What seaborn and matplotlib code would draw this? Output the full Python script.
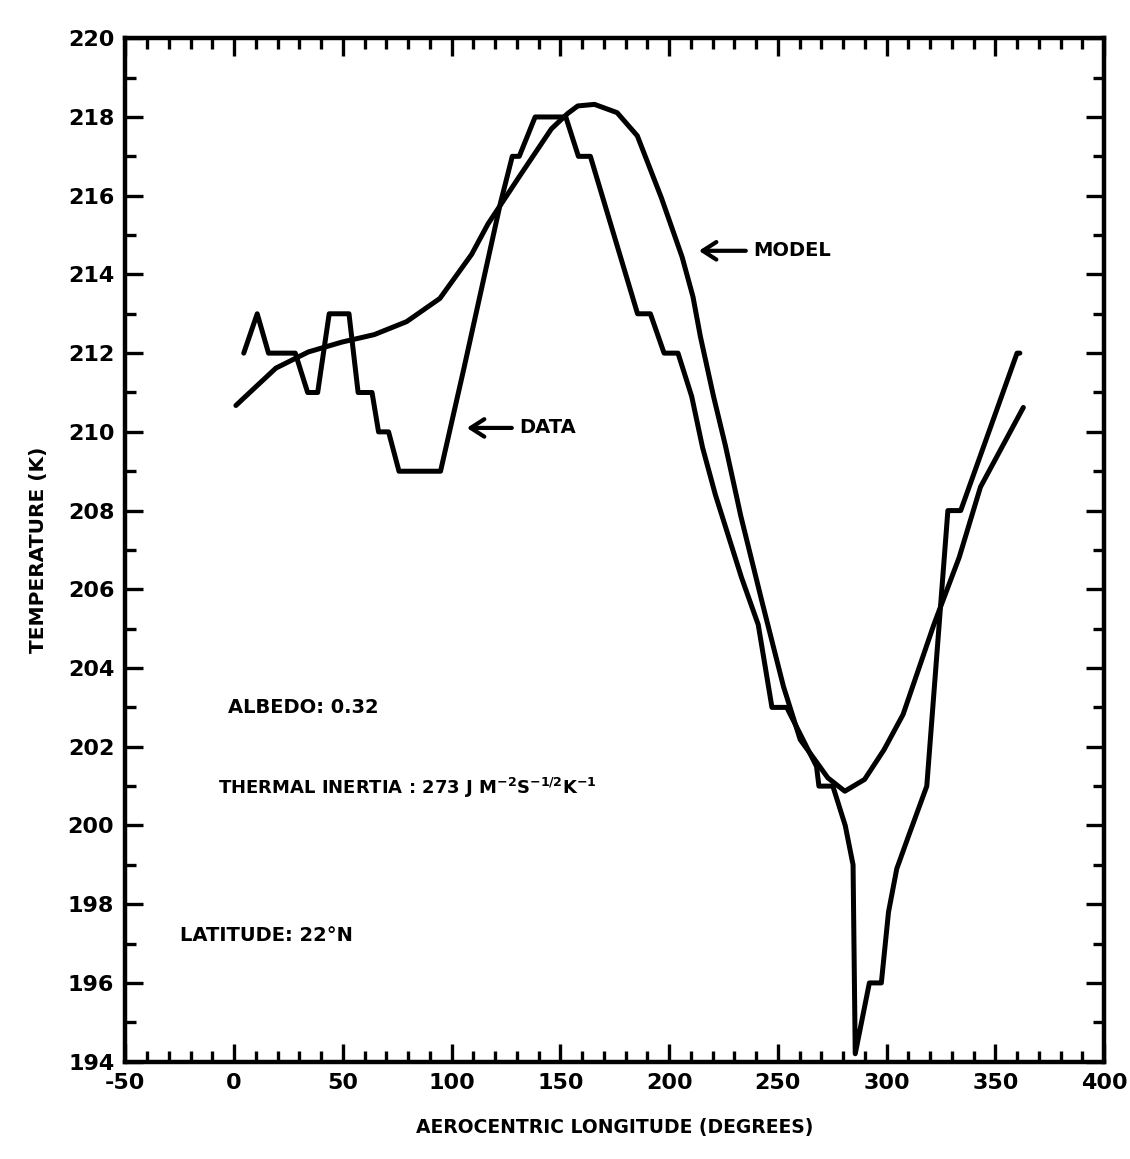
#!/usr/bin/env python3
"""
Surface temperature vs aerocentric longitude: observed data (step trace)
against thermal model curve. Saves out.png.
"""

import matplotlib
matplotlib.use('Agg')
import pandas as pd
import matplotlib.pyplot as plt
from matplotlib.ticker import MultipleLocator
import seaborn as sns

data_lon = [4.4, 10.6, 15.8, 28.1, 33.8, 38.4, 43.7, 52.8, 57.0, 63.4,
            66.4, 71.0, 75.8, 94.9, 105.6, 122.4, 127.9, 131.1, 138.4, 152.5,
            158.3, 163.8, 185.5, 191.4, 197.7, 204.1, 210.4, 215.4, 221.3, 233.3,
            241.0, 247.3, 254.1, 267.8, 268.9, 275.3, 281.0, 284.6, 285.6, 292.1,
            297.6, 300.9, 304.7, 309.9, 318.5, 328.2, 334.1, 360.0, 361.3]
data_temp = [212.0, 213.0, 212.0, 212.0, 211.0, 211.0, 213.0, 213.0, 211.0, 211.0,
             210.0, 210.0, 209.0, 209.0, 211.6, 215.8, 217.0, 217.0, 218.0, 218.0,
             217.0, 217.0, 213.0, 213.0, 212.0, 212.0, 210.9, 209.6, 208.4, 206.3,
             205.1, 203.0, 203.0, 201.5, 201.0, 201.0, 200.0, 199.0, 194.2, 196.0,
             196.0, 197.8, 198.9, 199.7, 201.0, 208.0, 208.0, 212.0, 212.0]

# Model curve
model_lon = [0.8, 8.9, 19.2, 34.1, 49.5, 64.4, 79.3, 94.6, 109.2, 116.7,
             131.3, 145.9, 153.4, 158.0, 165.7, 176.1, 185.4, 196.5, 206.0, 211.0,
             214.4, 220.4, 225.9, 230.9, 232.9, 242.7, 252.6, 260.3, 266.9, 273.0,
             280.8, 289.9, 298.8, 307.6, 321.8, 333.4, 343.2, 362.9]
model_temp = [210.67, 211.09, 211.62, 212.03, 212.28, 212.47, 212.8, 213.39, 214.51, 215.28,
              216.5, 217.7, 218.09, 218.28, 218.32, 218.11, 217.52, 215.94, 214.44, 213.43,
              212.42, 210.91, 209.65, 208.39, 207.88, 205.69, 203.53, 202.18, 201.68, 201.21,
              200.87, 201.17, 201.92, 202.82, 205.11, 206.81, 208.6, 210.62]

x_ticks = [-50, 0, 50, 100, 150, 200, 250, 300, 350, 400]
y_ticks = [194, 196, 198, 200, 202, 204, 206, 208, 210, 212, 214, 216, 218, 220]

sns.set_style('white')
plt.rcParams['font.family'] = ['DejaVu Sans']
plt.rcParams['font.weight'] = 'bold'
plt.rcParams['axes.unicode_minus'] = False
for key in ['text.color', 'axes.labelcolor', 'xtick.color', 'ytick.color']:
    plt.rcParams[key] = 'black'


def main():
    data = pd.DataFrame({'lon': data_lon, 'temp': data_temp})
    model = pd.DataFrame({'lon': model_lon, 'temp': model_temp})

    fig = plt.figure(figsize=(11.3, 11.59), dpi=100)
    ax = fig.add_axes([0.111, 0.084, 0.866, 0.883])

    sns.lineplot(data=model, x='lon', y='temp', sort=False, estimator=None,
                 color='black', lw=3.6, ax=ax)
    sns.lineplot(data=data, x='lon', y='temp', sort=False, estimator=None,
                 color='black', lw=3.6, ax=ax)

    ax.set_xlim(-50, 400)
    ax.set_ylim(194, 220)
    ax.set_xticks(x_ticks)
    ax.set_yticks(y_ticks)
    ax.xaxis.set_minor_locator(MultipleLocator(10))
    ax.yaxis.set_minor_locator(MultipleLocator(1))
    ax.tick_params(which='both', direction='in', top=True, right=True,
                   bottom=True, left=True, width=2.4, color='black')
    ax.tick_params(which='major', length=13, labelsize=16, pad=8)
    ax.tick_params(which='minor', length=8)
    for lbl in ax.get_xticklabels() + ax.get_yticklabels():
        lbl.set_fontweight('bold')
    for sp in ax.spines.values():
        sp.set_linewidth(3.2)
        sp.set_color('black')

    ax.set_xlabel('AEROCENTRIC LONGITUDE (DEGREES)', fontsize=13.5,
                  fontweight='bold', labelpad=18)
    ax.set_ylabel('TEMPERATURE (K)', fontsize=14.5, fontweight='bold',
                  labelpad=14)

    ax.text(-3, 203, 'ALBEDO: 0.32', fontsize=14, fontweight='bold', va='center')
    ax.text(-7.6, 200.95,
            r'THERMAL INERTIA : 273 J M$^{\mathbf{-2}}$S$^{\mathbf{-1/2}}$K$^{\mathbf{-1}}$',
            fontsize=13, fontweight='bold', va='center')
    ax.text(-24.8, 197.2, 'LATITUDE: 22°N', fontsize=14, fontweight='bold',
            va='center')

    arrow = dict(arrowstyle='->,head_length=0.7,head_width=0.45', lw=3,
                 color='black', shrinkA=3, shrinkB=0)
    ax.annotate('MODEL', xy=(213.7, 214.6), xytext=(238.7, 214.6),
                fontsize=14, fontweight='bold', va='center', arrowprops=arrow)
    ax.annotate('DATA', xy=(107.0, 210.1), xytext=(131.1, 210.1),
                fontsize=14, fontweight='bold', va='center', arrowprops=arrow)

    fig.savefig('out.png', dpi=100, facecolor='white')
    plt.close(fig)


if __name__ == '__main__':
    main()
